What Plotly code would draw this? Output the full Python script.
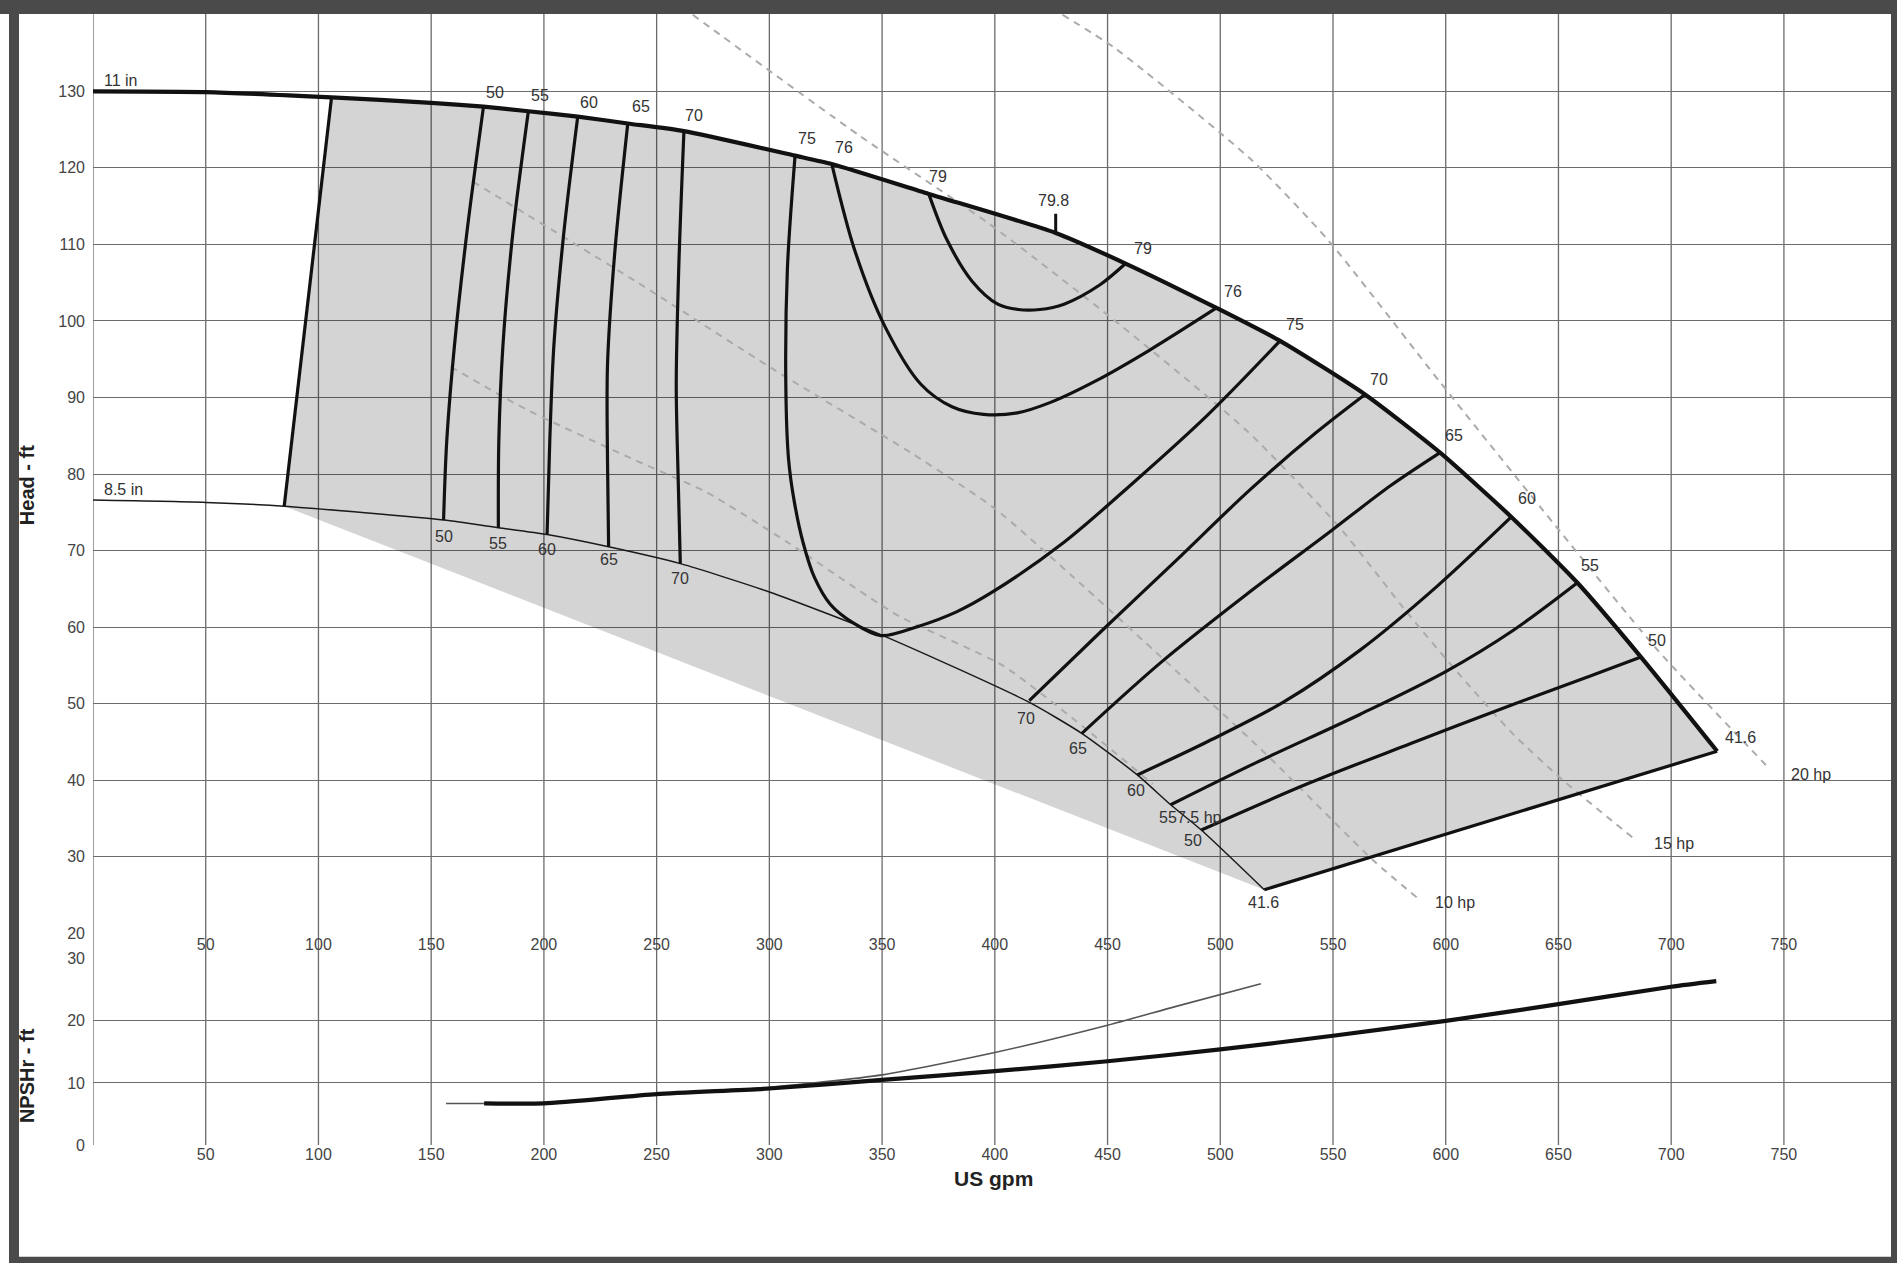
import plotly.graph_objects as go

# ---------------- data (US gpm, ft) ----------------
x_ticks = [50, 100, 150, 200, 250, 300, 350, 400, 450, 500, 550, 600, 650, 700, 750]
grid_x = [0] + x_ticks
head_ticks = [20, 30, 40, 50, 60, 70, 80, 90, 100, 110, 120, 130]
npsh_ticks = [0, 10, 20, 30]

# impeller head curves
q_11in = [0, 50, 105.8, 150, 173.2, 193.1, 215, 237.2, 262.1, 311.4, 327.7, 370.7, 427, 458, 498.3, 526.5, 564.2, 597.5, 629.1, 658.4, 686.6, 720.4]
h_11in = [130, 129.9, 129.2, 128.5, 128.0, 127.4, 126.7, 125.8, 124.8, 121.6, 120.5, 116.6, 111.5, 107.5, 101.7, 97.4, 90.4, 82.8, 74.4, 65.8, 56.1, 43.8]
q_85in = [0, 50, 84.8, 155.5, 179.8, 201.4, 228.7, 260.5, 300, 349.6, 414.5, 438.7, 463.2, 478, 491.6, 519.5]
h_85in = [76.6, 76.3, 75.8, 74.0, 73.0, 72.1, 70.5, 68.3, 64.6, 59.0, 50.3, 46.1, 40.7, 36.8, 33.5, 25.7]

# operating-region boundaries (41.6 % lines)
q_left_edge = [105.8, 84.8]
h_left_edge = [129.2, 75.8]
q_right_edge = [720.4, 519.5]
h_right_edge = [43.8, 25.7]

# efficiency curves
q_e50a = [173.2, 165.9, 160.3, 156.9, 155.5]
h_e50a = [128.0, 111.7, 96.7, 84.3, 74.0]
q_e55a = [193.1, 186.3, 181.8, 180.0, 179.8]
h_e55a = [127.4, 111.7, 96.7, 84.3, 73.0]
q_e60a = [215, 208.9, 204.4, 202.6, 201.4]
h_e60a = [126.7, 111.7, 96.7, 84.3, 72.1]
q_e65a = [237.2, 231.5, 228.2, 228.2, 228.7]
h_e65a = [125.8, 109.2, 94.2, 82.0, 70.5]
q_e70a = [262.1, 259.8, 258.7, 259.5, 260.5]
h_e70a = [124.8, 106.8, 91.7, 80.0, 68.3]
q_e75 = [311.4, 308, 307.3, 308.5, 311, 315, 320, 327, 337, 349.5, 366, 383, 399, 430.7, 462.3, 494, 526.5]
h_e75 = [121.6, 106.8, 91.7, 82.0, 76.5, 71.0, 66.5, 63.0, 60.6, 58.9, 60.1, 62.0, 64.6, 71.1, 79.1, 87.6, 97.4]
q_e76 = [327.7, 337.9, 351.4, 367.3, 381, 395, 410, 425, 445, 468.7, 498.3]
h_e76 = [120.5, 109.2, 99.2, 91.7, 88.8, 87.8, 88.0, 89.4, 92.2, 96.2, 101.7]
q_e79 = [370.7, 378.6, 389.9, 401.3, 410.3, 420, 430.7, 446.5, 458]
h_e79 = [116.6, 110.7, 105.2, 102.2, 101.5, 101.5, 102.2, 104.7, 107.5]
q_e70b = [415.3, 447, 480, 513, 542, 564.2]
h_e70b = [50.4, 59.4, 68.6, 77.9, 85.3, 90.4]
q_e65b = [438.5, 473.7, 511.3, 548.8, 575.6, 597.5]
h_e65b = [46.1, 55.4, 64.2, 72.5, 78.5, 82.8]
q_e60b = [463.2, 494, 528, 562, 596, 629.1]
h_e60b = [40.7, 45.0, 50.2, 57.0, 65.3, 74.4]
q_e55b = [478, 516.6, 561.9, 600, 630, 658.4]
h_e55b = [36.8, 42.4, 48.6, 54.2, 59.6, 65.8]
q_e50b = [491.6, 539.2, 584.5, 629.8, 663.8, 686.6]
h_e50b = [33.5, 39.6, 44.8, 49.9, 53.6, 56.1]
q_bep_tick = [427, 427]
h_bep_tick = [111.6, 114.0]

# power lines (hp)
q_hp75 = [158.7, 191.8, 240.6, 272.3, 308.5, 357.2, 403.5, 440, 470]
h_hp75 = [94.0, 88.5, 81.8, 77.6, 71.0, 61.5, 55.0, 46.8, 39.5]
q_hp10 = [168.5, 240.6, 301.7, 362.7, 400, 435, 476, 520, 568, 588]
h_hp10 = [118.2, 105.2, 93.7, 82.8, 75.5, 66.5, 55.5, 43.5, 29.5, 24.5]
q_hp15 = [266, 340, 397, 453, 512, 553, 584, 607, 630, 652, 683]
h_hp15 = [140.0, 124.2, 112.8, 100.1, 85.6, 73.0, 61.5, 53.5, 46.0, 40.0, 32.5]
q_hp20 = [430, 453, 514, 548, 597.5, 642.5, 694, 742]
h_hp20 = [140.0, 135.7, 121.0, 110.5, 92.0, 75.5, 57.0, 42.0]

# NPSHr curves
q_npsh_11 = [173.5, 200, 250, 300, 350, 400, 450, 500, 550, 600, 650, 700, 720]
h_npsh_11 = [6.7, 6.7, 8.2, 9.1, 10.5, 11.9, 13.5, 15.4, 17.6, 20.0, 22.7, 25.5, 26.4]
q_npsh_85 = [156.6, 200, 250, 300, 350, 400, 450, 480, 518]
h_npsh_85 = [6.7, 6.8, 8.2, 9.3, 11.3, 14.9, 19.3, 22.3, 26.0]

# labels
top_lbl_text = ["50", "55", "60", "65", "70", "75", "76", "79", "79.8", "79", "76", "75", "70", "65", "60", "55", "50", "41.6"]
top_lbl_q = [178.4, 198.1, 220.2, 242.9, 266.6, 316.9, 332.9, 374.6, 426.1, 465.7, 505.6, 533.3, 570.5, 603.6, 635.9, 664.1, 693.8, 730.6]
top_lbl_h = [129.8, 129.4, 128.6, 128.0, 126.8, 123.8, 122.7, 118.9, 115.8, 109.5, 103.9, 99.5, 92.4, 85.0, 76.8, 68.1, 58.3, 45.6]
low_lbl_text = ["50", "55", "60", "65", "70", "70", "65", "60", "55", "50", "41.6"]
low_lbl_q = [155.6, 179.8, 201.4, 228.7, 260.5, 413.7, 437.0, 462.8, 476.8, 487.9, 519.0]
low_lbl_h = [71.8, 70.9, 70.1, 68.8, 66.3, 48.1, 44.1, 38.7, 35.1, 32.2, 24.0]
hp_lbl_text = ["7.5 hp", "10 hp", "15 hp", "20 hp"]
hp_lbl_q = [491.0, 604.3, 701.2, 762.1]
hp_lbl_h = [35.1, 24.0, 31.8, 40.8]
dia_lbl_text = ["11 in", "8.5 in"]
dia_lbl_q = [3.8, 3.8]
dia_lbl_h = [131.4, 78.0]

# ---------------- figure ----------------
W, H = 1897, 1263
ML, MR, MT, MB = 93, 6, 12, 118
PW, PH = W - ML - MR, H - MT - MB
X_RANGE = [0, 797.5]
TOP_DOMAIN = [0.1871, 1.0]
BOT_DOMAIN = [0.0, 0.1646]
GRID = "#6b6b6b"
TXT = "#333333"
FONT = "Liberation Sans, Arial, sans-serif"


def px_x(p):
    return (p - ML) / PW


def px_y(p):
    return (H - MB - p) / PH


fig = go.Figure()

# shaded operating region
fill_q = q_11in[2:] + q_right_edge[1:] + q_left_edge[1:]
fill_h = h_11in[2:] + h_right_edge[1:] + h_left_edge[1:]
fig.add_trace(go.Scatter(x=fill_q, y=fill_h, mode="lines", fill="toself",
                         fillcolor="rgba(0,0,0,0.17)", line=dict(width=0),
                         hoverinfo="skip", showlegend=False))

# power lines
for q, h in [(q_hp75, h_hp75), (q_hp10, h_hp10), (q_hp15, h_hp15), (q_hp20, h_hp20)]:
    fig.add_trace(go.Scatter(x=q, y=h, mode="lines",
                             line=dict(color="#ababab", width=2, dash="7px,6px", shape="spline", smoothing=0.6),
                             hoverinfo="skip", showlegend=False))

# 8.5 in curve (thin)
fig.add_trace(go.Scatter(x=q_85in, y=h_85in, mode="lines",
                         line=dict(color="#1a1a1a", width=1.5, shape="spline", smoothing=0.6), showlegend=False))

# efficiency curves
for q, h in [(q_e50a, h_e50a), (q_e55a, h_e55a), (q_e60a, h_e60a), (q_e65a, h_e65a), (q_e70a, h_e70a),
             (q_e75, h_e75), (q_e76, h_e76), (q_e79, h_e79),
             (q_e70b, h_e70b), (q_e65b, h_e65b), (q_e60b, h_e60b), (q_e55b, h_e55b), (q_e50b, h_e50b)]:
    fig.add_trace(go.Scatter(x=q, y=h, mode="lines",
                             line=dict(color="#111111", width=3.2, shape="spline", smoothing=0.9), showlegend=False))

fig.add_trace(go.Scatter(x=q_bep_tick, y=h_bep_tick, mode="lines", line=dict(color="#111111", width=3), showlegend=False))
for q, h in [(q_left_edge, h_left_edge), (q_right_edge, h_right_edge)]:
    fig.add_trace(go.Scatter(x=q, y=h, mode="lines", line=dict(color="#111111", width=3.2), showlegend=False))

# 11 in curve (thick)
fig.add_trace(go.Scatter(x=q_11in, y=h_11in, mode="lines",
                         line=dict(color="#111111", width=4.2, shape="spline", smoothing=0.6), showlegend=False))

# NPSHr
fig.add_trace(go.Scatter(x=q_npsh_85, y=h_npsh_85, mode="lines", xaxis="x2", yaxis="y2",
                         line=dict(color="#555555", width=1.6, shape="spline", smoothing=0.6), showlegend=False))
fig.add_trace(go.Scatter(x=q_npsh_11, y=h_npsh_11, mode="lines", xaxis="x2", yaxis="y2",
                         line=dict(color="#111111", width=4.2, shape="spline", smoothing=0.6), showlegend=False))

annotations = []
for texts, qs, hs in [(top_lbl_text, top_lbl_q, top_lbl_h), (low_lbl_text, low_lbl_q, low_lbl_h),
                      (hp_lbl_text, hp_lbl_q, hp_lbl_h)]:
    for t, q, h in zip(texts, qs, hs):
        annotations.append(dict(x=q, y=h, xref="x", yref="y", text=t, showarrow=False,
                                xanchor="center", yanchor="middle",
                                font=dict(family=FONT, size=16, color=TXT)))
for t, q, h in zip(dia_lbl_text, dia_lbl_q, dia_lbl_h):
    annotations.append(dict(x=q, y=h, xref="x", yref="y", text=t, showarrow=False, xanchor="left", yanchor="middle",
                            font=dict(family=FONT, size=16, color=TXT)))

# axis titles
annotations.append(dict(x=px_x(993), y=px_y(1179), xref="paper", yref="paper", text="<b>US gpm</b>", showarrow=False,
                        xanchor="center", yanchor="middle", font=dict(family=FONT, size=21, color="#222")))
annotations.append(dict(x=px_x(27), y=px_y(484), xref="paper", yref="paper", text="<b>Head - ft</b>", showarrow=False,
                        xanchor="center", yanchor="middle", textangle=-90,
                        font=dict(family=FONT, size=20, color="#222")))
annotations.append(dict(x=px_x(27), y=px_y(1076), xref="paper", yref="paper", text="<b>NPSHr - ft</b>", showarrow=False,
                        xanchor="center", yanchor="middle", textangle=-90,
                        font=dict(family=FONT, size=20, color="#222")))

shapes = []
# vertical grid lines spanning both panels and the band between
for gx in grid_x:
    shapes.append(dict(type="line", xref="x", yref="paper", x0=gx, x1=gx, y0=0, y1=1,
                       line=dict(color=GRID, width=1.3), layer="below"))
# dark frame
FR = "#4a4a4a"
shapes.append(dict(type="rect", xref="paper", yref="paper", x0=px_x(0), x1=px_x(W + 5), y0=px_y(12), y1=px_y(-5),
                   fillcolor=FR, line=dict(width=0), layer="above"))
shapes.append(dict(type="rect", xref="paper", yref="paper", x0=px_x(9), x1=px_x(19), y0=px_y(H + 5), y1=px_y(-5),
                   fillcolor=FR, line=dict(width=0), layer="above"))
shapes.append(dict(type="rect", xref="paper", yref="paper", x0=px_x(1891), x1=px_x(W + 5), y0=px_y(H + 5), y1=px_y(-5),
                   fillcolor=FR, line=dict(width=0), layer="above"))
shapes.append(dict(type="rect", xref="paper", yref="paper", x0=px_x(9), x1=px_x(W + 5), y0=px_y(H + 5), y1=px_y(1257),
                   fillcolor=FR, line=dict(width=0), layer="above"))

tickfont = dict(family=FONT, size=16, color="#444")
fig.update_layout(
    width=W, height=H,
    margin=dict(l=ML, r=MR, t=MT, b=MB, pad=0),
    paper_bgcolor="white", plot_bgcolor="white",
    showlegend=False,
    xaxis=dict(domain=[0, 1], range=X_RANGE, anchor="y", tickvals=x_ticks, showgrid=False, zeroline=False,
               showline=False, ticks="", ticklabelstandoff=0, tickfont=tickfont),
    yaxis=dict(domain=TOP_DOMAIN, range=[20, 140.1], anchor="x", tickvals=head_ticks, showgrid=True,
               gridcolor=GRID, gridwidth=1.3, zeroline=False, showline=False, ticks="", ticklabelstandoff=7,
               tickfont=tickfont),
    xaxis2=dict(domain=[0, 1], range=X_RANGE, anchor="y2", matches="x", tickvals=x_ticks, showgrid=False,
                zeroline=False, showline=False, ticks="", ticklabelstandoff=-2, tickfont=tickfont),
    yaxis2=dict(domain=BOT_DOMAIN, range=[0, 30], anchor="x2", tickvals=npsh_ticks, showgrid=True,
                gridcolor=GRID, gridwidth=1.3, zeroline=False, showline=False, ticks="", ticklabelstandoff=7,
                tickfont=tickfont),
    annotations=annotations,
    shapes=shapes,
)

fig.write_html("out.html", config={"displayModeBar": False},
               post_script="document.body.style.margin='0px';document.body.style.overflow='hidden';")
